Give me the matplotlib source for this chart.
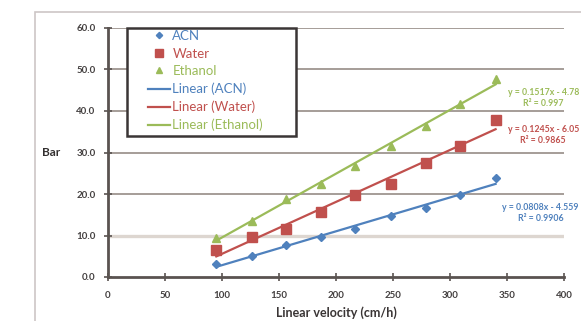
import numpy as np
import matplotlib
matplotlib.use("Agg")
import matplotlib.pyplot as plt
from matplotlib.patches import Rectangle
from matplotlib.lines import Line2D

# ---- data ----
velocity = [95, 126, 156, 187, 217, 248, 279, 309, 340]
acn = [3.1, 5.1, 7.7, 9.6, 11.5, 14.7, 16.6, 19.8, 23.8]
water = [6.5, 9.6, 11.6, 15.7, 19.8, 22.4, 27.5, 31.6, 37.8]
ethanol = [9.4, 13.5, 18.8, 22.4, 26.7, 31.6, 36.4, 41.7, 47.7]
series_names = ["ACN", "Water", "Ethanol"]
eq_texts = ["y = 0.0808x - 4.559\nR² = 0.9906",
            "y = 0.1245x - 6.05\nR² = 0.9865",
            "y = 0.1517x - 4.78\nR² = 0.997"]
x_ticks = [0, 50, 100, 150, 200, 250, 300, 350, 400]
y_ticks = [0, 10, 20, 30, 40, 50, 60]

colors = ["#4F81BD", "#C0504D", "#9BBB59"]
markers = ["D", "s", "^"]
msizes = [4, 6.5, 5.5]

plt.rcParams['font.family'] = ['Lato', 'DejaVu Sans']

W, H = 581, 321
fig = plt.figure(figsize=(W / 100, H / 100), dpi=100)
fig.patch.set_facecolor("white")

# outer chart frame
fig.add_artist(Rectangle((35 / W, -0.1), 1.0, 1 - 12 / H + 0.1,
                         transform=fig.transFigure, fill=False,
                         edgecolor="#cdc6c6", linewidth=1.2))

ax = fig.add_axes([108 / W, 1 - 277 / H, (564 - 108) / W, (277 - 28) / H])
ax.set_xlim(0, 400)
ax.set_ylim(0, 60)

for yv in y_ticks[1:]:
    if yv == 10:
        ax.axhline(yv, color="#ddd6d0", linewidth=2.4, zorder=0)
    else:
        ax.axhline(yv, color="#9e9590", linewidth=1.3, zorder=0)

handles_pts = []
handles_lines = []
x_arr = np.array(velocity, dtype=float)
for name, vals, c, m, ms in zip(series_names, [acn, water, ethanol], colors, markers, msizes):
    ax.plot(velocity, vals, linestyle="none", marker=m, color=c,
            markersize=ms, label=name, zorder=3)
    handles_pts.append(Line2D([], [], linestyle="none", marker=m, color=c,
                              markersize=ms * 0.8))
for name, vals, c in zip(series_names, [acn, water, ethanol], colors):
    k, b = np.polyfit(x_arr, np.array(vals), 1)
    xs = np.array([x_arr.min(), x_arr.max()])
    ax.plot(xs, k * xs + b, color=c, linewidth=1.6, zorder=2)
    handles_lines.append(Line2D([], [], color=c, linewidth=1.6))

# equation labels (right aligned near the figure edge)
eq_ypix = [213, 135, 98]
for txt, c, yp in zip(eq_texts, colors, eq_ypix):
    fig.text(579 / W, 1 - yp / H, txt, color=c, fontsize=6.3,
             fontweight="bold", ha="right", va="center",
             multialignment="center", linespacing=1.25)

for s in ["top", "right"]:
    ax.spines[s].set_visible(False)
for s in ["left", "bottom"]:
    ax.spines[s].set_color("#5a5350")
    ax.spines[s].set_linewidth(2.0)

ax.set_xticks(x_ticks)
ax.set_xticklabels([str(v) for v in x_ticks])
ax.set_yticks(y_ticks)
ax.set_yticklabels([f"{v:.1f}" for v in y_ticks])
ax.tick_params(direction="inout", length=6, width=1.2, color="#5a5350",
               labelsize=7, labelcolor="#444040")
ax.tick_params(axis="x", pad=7)
ax.tick_params(axis="y", pad=6)
for lab in ax.get_xticklabels() + ax.get_yticklabels():
    lab.set_fontweight("bold")

fig.text((108 + 564) / 2 / W, 1 - 313 / H, "Linear velocity (cm/h)",
         fontsize=9, fontweight="bold", color="#3a3535",
         ha="center", va="center")
fig.text(42 / W, 1 - 153 / H, "Bar", fontsize=8.5, fontweight="bold",
         color="#333030", ha="left", va="center")

# legend box drawn manually, entries via legend without frame
x0 = (127 - 108) / 456
x1 = (296 - 108) / 456
y0 = (277 - 136) / 249
ax.add_patch(Rectangle((x0, y0), x1 - x0, 1.0 - y0, transform=ax.transAxes,
                       fill=True, facecolor="white", edgecolor="#3a3535",
                       linewidth=1.8, zorder=4, clip_on=False))
labels = series_names + [f"Linear ({n})" for n in series_names]
leg = ax.legend(handles=handles_pts + handles_lines, labels=labels,
                loc="upper left",
                bbox_to_anchor=((148 - 108) / 456, (277 - 30) / 249),
                borderaxespad=0, fontsize=9.5, frameon=False,
                handlelength=1.7, handletextpad=0.15, labelspacing=0.42,
                borderpad=0.0)
leg.set_zorder(5)
for t, c in zip(leg.get_texts(), colors + colors):
    t.set_color(c)

fig.savefig("out.png", dpi=100)
